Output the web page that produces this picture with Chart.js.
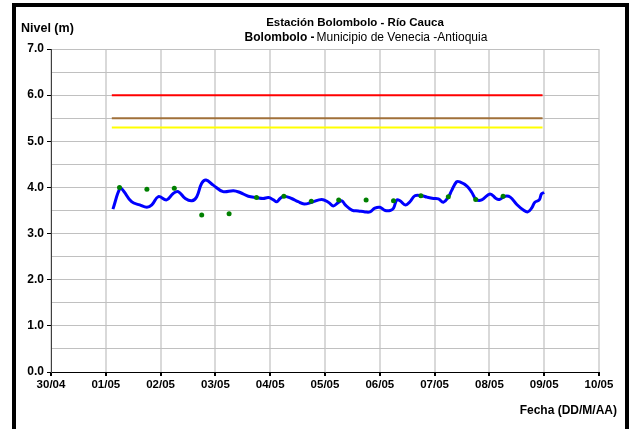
<!DOCTYPE html>
<html>
<head>
<meta charset="utf-8">
<title>Estación Bolombolo - Río Cauca</title>
<script src="https://cdn.jsdelivr.net/npm/chart.js@4.4.1/dist/chart.umd.min.js"></script>
<style>
    html, body { margin: 0; padding: 0; background: #fff; }
    #wrap { position: relative; width: 630px; height: 429px; }
</style>
</head>
<body>
<div id="wrap"><canvas id="nivelChart" width="630" height="429"></canvas></div>
<script>
/* Data (x in days counted from 30/04 00:00) */
const tickLabels = ['30/04', '01/05', '02/05', '03/05', '04/05', '05/05',
    '06/05', '07/05', '08/05', '09/05', '10/05'];

// continuous sensor level
const levelDays = [1.13, 1.26, 1.32, 1.47, 1.62, 1.75, 1.84, 1.96, 2.11, 2.23,
    2.32, 2.45, 2.57, 2.66, 2.75, 2.83, 2.96, 3.14, 3.33, 3.45,
    3.60, 3.75, 3.87, 3.97, 4.06, 4.12, 4.18, 4.25, 4.39, 4.51,
    4.62, 4.76, 4.94, 5.06, 5.15, 5.24, 5.31, 5.37, 5.49, 5.61,
    5.73, 5.82, 5.91, 6.00, 6.10, 6.19, 6.25, 6.31, 6.37, 6.47,
    6.55, 6.64, 6.77, 6.86, 6.98, 7.07, 7.16, 7.25, 7.31, 7.40,
    7.46, 7.59, 7.68, 7.76, 7.86, 8.01, 8.12, 8.18, 8.29, 8.38,
    8.50, 8.62, 8.70, 8.77, 8.83, 8.91, 8.95, 9.00];
const levelValues = [3.53, 3.98, 3.93, 3.69, 3.62, 3.57, 3.62, 3.80, 3.73, 3.87,
    3.91, 3.76, 3.71, 3.80, 4.09, 4.16, 4.05, 3.91, 3.93, 3.89,
    3.81, 3.78, 3.76, 3.78, 3.73, 3.69, 3.76, 3.81, 3.76, 3.69,
    3.64, 3.68, 3.74, 3.68, 3.60, 3.67, 3.71, 3.62, 3.51, 3.49,
    3.47, 3.47, 3.55, 3.57, 3.50, 3.50, 3.55, 3.73, 3.71, 3.62,
    3.69, 3.82, 3.82, 3.79, 3.76, 3.75, 3.68, 3.79, 3.93, 4.12,
    4.12, 4.03, 3.89, 3.74, 3.73, 3.86, 3.76, 3.74, 3.81, 3.79,
    3.63, 3.51, 3.47, 3.55, 3.68, 3.73, 3.86, 3.89];

// manual staff readings (06:00 and 18:00)
const readingDays = [1.25, 1.75, 2.25, 2.75, 3.25, 3.75, 4.25, 4.75,
    5.25, 5.75, 6.25, 6.75, 7.25, 7.75, 8.25];
const readingValues = [4.00, 3.96, 3.98, 3.40, 3.43, 3.78, 3.81, 3.70,
    3.73, 3.73, 3.71, 3.82, 3.80, 3.74, 3.81];

// alert thresholds
const alertDays = [1.11, 8.97];
const redLevel = [6.0, 6.0];
const orangeLevel = [5.5, 5.5];
const yellowLevel = [5.3, 5.3];

const toXY = (xs, ys) => xs.map((x, i) => ({ x: x, y: ys[i] }));
const FONT = '"Liberation Sans", Arial, sans-serif';

/* Titles, axis names and frame */
const decorPlugin = {
    id: 'decor',
    afterDraw(chart) {
        const c = chart.ctx;
        c.save();
        c.fillStyle = '#000';
        c.textBaseline = 'middle';

        c.font = 'bold 11.5px ' + FONT;
        c.textAlign = 'center';
        c.fillText('Estación Bolombolo - Río Cauca', 355, 23);

        // subtitle: bold station + normal place
        const part1 = 'Bolombolo -';
        const part2 = 'Municipio de Venecia -Antioquia';
        c.font = 'bold 12px ' + FONT;
        const w1 = c.measureText(part1).width;
        c.font = '12px ' + FONT;
        const w2 = c.measureText(part2).width;
        const x0 = 366 - (w1 + w2 + 2) / 2;
        c.textAlign = 'left';
        c.font = 'bold 12px ' + FONT;
        c.fillText(part1, x0, 38);
        c.font = '12px ' + FONT;
        c.fillText(part2, x0 + w1 + 2, 38);

        c.font = 'bold 12.5px ' + FONT;
        c.fillText('Nivel (m)', 21, 29);
        c.font = 'bold 12px ' + FONT;
        c.textAlign = 'right';
        c.fillText('Fecha (DD/M/AA)', 617, 411);

        // outer frame (no bottom edge in the picture)
        c.lineWidth = 4;
        c.strokeStyle = '#000';
        c.strokeRect(14, 5, 613, 440);
        c.restore();
    }
};

new Chart(document.getElementById('nivelChart'), {
    type: 'line',
    data: {
        datasets: [
            {
                label: 'Lectura mira',
                data: toXY(readingDays, readingValues),
                showLine: false,
                pointRadius: 2.5,
                pointBackgroundColor: '#008000',
                pointBorderColor: '#008000',
                pointBorderWidth: 0
            },
            {
                label: 'Nivel sensor',
                data: toXY(levelDays, levelValues),
                borderColor: '#0000ff',
                borderWidth: 3,
                pointRadius: 0,
                tension: 0.4
            },
            {
                label: 'Rojo',
                data: toXY(alertDays, redLevel),
                borderColor: '#ff0000',
                borderWidth: 2,
                pointRadius: 0
            },
            {
                label: 'Naranja',
                data: toXY(alertDays, orangeLevel),
                borderColor: '#a0703a',
                borderWidth: 2,
                pointRadius: 0
            },
            {
                label: 'Amarillo',
                data: toXY(alertDays, yellowLevel),
                borderColor: '#ffff00',
                borderWidth: 2,
                pointRadius: 0
            }
        ]
    },
    options: {
        responsive: false,
        animation: false,
        layout: { padding: { top: 49, right: 31, left: 0, bottom: 0 } },
        plugins: {
            legend: { display: false },
            tooltip: { enabled: false }
        },
        scales: {
            x: {
                type: 'linear',
                min: 0,
                max: 10,
                afterFit: s => { s.height = 57; },
                ticks: {
                    stepSize: 1,
                    autoSkip: false,
                    maxRotation: 0,
                    padding: 2,
                    color: '#000',
                    font: { family: FONT, size: 11.5, weight: 'bold' },
                    callback: v => tickLabels[v]
                },
                grid: { color: '#d9d9d9', lineWidth: 2, tickLength: 4, tickColor: '#000' },
                border: { color: '#000', width: 1 }
            },
            y: {
                min: 0,
                max: 7,
                afterFit: s => { s.width = 51; },
                ticks: {
                    stepSize: 0.5,
                    padding: 3,
                    color: '#000',
                    font: { family: FONT, size: 12, weight: 'bold' },
                    callback: v => Number.isInteger(v) ? v.toFixed(1) : ''
                },
                grid: {
                    color: '#c0c0c0',
                    lineWidth: 1,
                    tickLength: 4,
                    tickColor: ctx => Number.isInteger(ctx.tick.value) ? '#000' : 'rgba(0,0,0,0)'
                },
                border: { color: '#404040', width: 1 }
            }
        }
    },
    plugins: [decorPlugin]
});
</script>
</body>
</html>
